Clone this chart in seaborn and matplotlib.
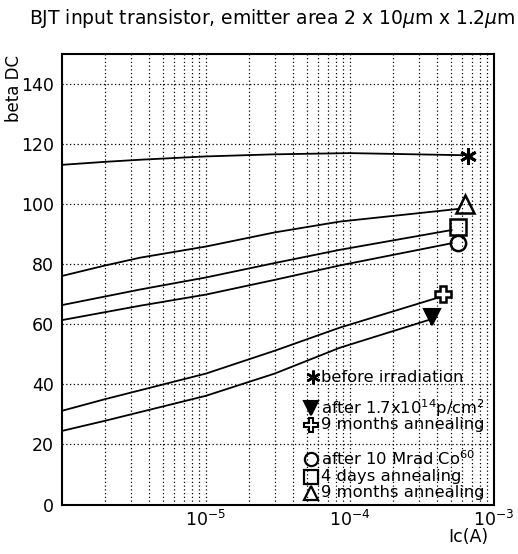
import numpy as np
import pandas as pd
import matplotlib
matplotlib.use("Agg")
import matplotlib.pyplot as plt
from matplotlib.ticker import LogLocator, FixedLocator, NullFormatter, FixedFormatter
import seaborn as sns

# ---------------- data ----------------
series_names = ["before irradiation", "after 1.7x10^14 p/cm^2", "p 9 months annealing",
                "after 10 Mrad Co60", "4 days annealing", "Co 9 months annealing"]

x_before = [1e-6, 2e-6, 3.5e-6, 1e-5, 3e-5, 1e-4, 6.1e-4]
y_before = [113.1, 114.1, 114.8, 115.9, 116.6, 117.0, 116.3]

x_p = [1e-6, 2e-6, 1e-5, 3e-5, 8.5e-5, 3.5e-4]
y_p = [24.5, 27.9, 36.2, 43.6, 52.2, 61.4]

x_p9 = [1e-6, 2e-6, 1e-5, 3e-5, 8.5e-5, 4.1e-4]
y_p9 = [31.2, 35.1, 43.6, 51.2, 58.9, 68.9]

x_co = [1e-6, 3.5e-6, 1e-5, 3e-5, 8.5e-5, 5.1e-4]
y_co = [61.4, 66.2, 69.9, 74.8, 79.6, 87.0]

x_co4 = [1e-6, 3.5e-6, 1e-5, 3e-5, 8.5e-5, 5.1e-4]
y_co4 = [66.4, 71.6, 75.6, 80.4, 84.8, 91.4]

x_co9 = [1e-6, 2e-6, 3.5e-6, 1e-5, 3e-5, 8.5e-5, 5.6e-4]
y_co9 = [76.1, 79.6, 82.2, 85.9, 90.6, 94.2, 98.4]

# single measured points at the end of each curve
marker_x = [6.6e-4, 3.73e-4, 4.45e-4, 5.6e-4, 5.6e-4, 6.3e-4]
marker_y = [116.1, 62.5, 70.1, 87.0, 92.5, 100.0]

y_ticks = [0, 20, 40, 60, 80, 100, 120, 140]
x_tick_vals = [1e-5, 1e-4, 1e-3]
x_tick_labels = [r"$10^{-5}$", r"$10^{-4}$", r"$10^{-3}$"]

title = r"BJT input transistor, emitter area 2 x 10$\mu$m x 1.2$\mu$m"
legend_texts = ["before irradiation",
                r"after 1.7x10$^{14}$p/cm$^{2}$",
                "9 months annealing",
                r"after 10 Mrad Co$^{60}$",
                "4 days annealing",
                "9 months annealing"]

# ---------------- build table ----------------
xs = [x_before, x_p, x_p9, x_co, x_co4, x_co9]
ys = [y_before, y_p, y_p9, y_co, y_co4, y_co9]
rows = []
for name, xv, yv in zip(series_names, xs, ys):
    for a, b in zip(xv, yv):
        rows.append({"Ic": a, "beta": b, "series": name})
df = pd.DataFrame(rows)

# ---------------- figure ----------------
sns.set_style("white")
plt.rcParams["font.family"] = ["DejaVu Sans"]
plt.rcParams["mathtext.fontset"] = "dejavusans"
for k in ["text.color", "axes.labelcolor", "xtick.color", "ytick.color", "axes.edgecolor"]:
    plt.rcParams[k] = "black"

W, H = 518, 554
fig = plt.figure(figsize=(W / 100, H / 100), dpi=100)
ax = fig.add_axes([62 / W, 1 - 504.5 / H, 432 / W, 450.5 / H])

sns.lineplot(data=df, x="Ic", y="beta", hue="series", units="series", estimator=None,
             palette={n: "black" for n in series_names}, legend=False, lw=1.3, ax=ax)

styles = [
    dict(marker=(6, 2, 0), ms=12, mew=2.0, mfc="black", mec="black"),
    dict(marker="v", ms=11, mew=1.5, mfc="black", mec="black"),
    dict(marker="P", ms=12, mew=1.8, mfc="white", mec="black"),
    dict(marker="o", ms=11, mew=1.8, mfc="none", mec="black"),
    dict(marker="s", ms=11, mew=1.8, mfc="none", mec="black"),
    dict(marker="^", ms=13, mew=1.8, mfc="none", mec="black"),
]
for mx, my, st in zip(marker_x, marker_y, styles):
    ax.plot([mx], [my], ls="none", zorder=5, **st)

ax.set_xscale("log")
ax.set_xlim(1e-6, 1e-3)
ax.set_ylim(0, 150)

ax.xaxis.set_major_locator(FixedLocator(x_tick_vals))
ax.xaxis.set_major_formatter(FixedFormatter(x_tick_labels))
ax.xaxis.set_minor_locator(LogLocator(base=10, subs=np.arange(2, 10)))
ax.xaxis.set_minor_formatter(NullFormatter())
ax.set_yticks(y_ticks)
ax.yaxis.set_minor_locator(FixedLocator(np.arange(0, 151, 5)))

ax.tick_params(which="major", direction="in", length=11, width=1.2, colors="black",
               labelsize=12.5, top=False, right=False)
ax.tick_params(which="minor", direction="in", length=6, width=1.0, top=False, right=False)
ax.tick_params(axis="x", which="major", pad=4)
ax.tick_params(axis="y", which="major", pad=6)

ax.grid(True, which="major", axis="y", color="black", ls=(0, (1, 2)), lw=0.9)
ax.grid(True, which="both", axis="x", color="black", ls=(0, (1, 2)), lw=0.9)
for sp in ax.spines.values():
    sp.set_color("black")
    sp.set_linewidth(1.5)

ax.set_xlabel("")
ax.set_ylabel("")
fig.text(488 / W, 1 - 537 / H, "Ic(A)", ha="right", va="center", fontsize=12.5)
fig.text(14 / W, 1 - 55 / H, "beta DC", ha="center", va="top", rotation=90, fontsize=12)
fig.text(272 / W, 1 - 19 / H, title, ha="center", va="center", fontsize=13.5)

# legend drawn as text + markers (pixel positions)
leg_y = [377, 408, 425, 459, 477, 493]
leg_mx = [313, 311, 311, 311, 311, 311]
leg_styles = [
    dict(marker=(6, 2, 0), ms=10, mew=1.8, mfc="black", mec="black"),
    dict(marker="v", ms=10, mew=1.5, mfc="black", mec="black"),
    dict(marker="P", ms=10, mew=1.5, mfc="white", mec="black"),
    dict(marker="o", ms=9.5, mew=1.6, mfc="none", mec="black"),
    dict(marker="s", ms=9.5, mew=1.6, mfc="none", mec="black"),
    dict(marker="^", ms=10.5, mew=1.6, mfc="none", mec="black"),
]
for ly, lmx, txt, st in zip(leg_y, leg_mx, legend_texts, leg_styles):
    fig.lines.append(plt.Line2D([lmx / W], [1 - ly / H], transform=fig.transFigure,
                                ls="none", **st))
    fig.text(321 / W, 1 - ly / H, txt, ha="left", va="center", fontsize=11.8)

fig.savefig("out.png", dpi=100)
